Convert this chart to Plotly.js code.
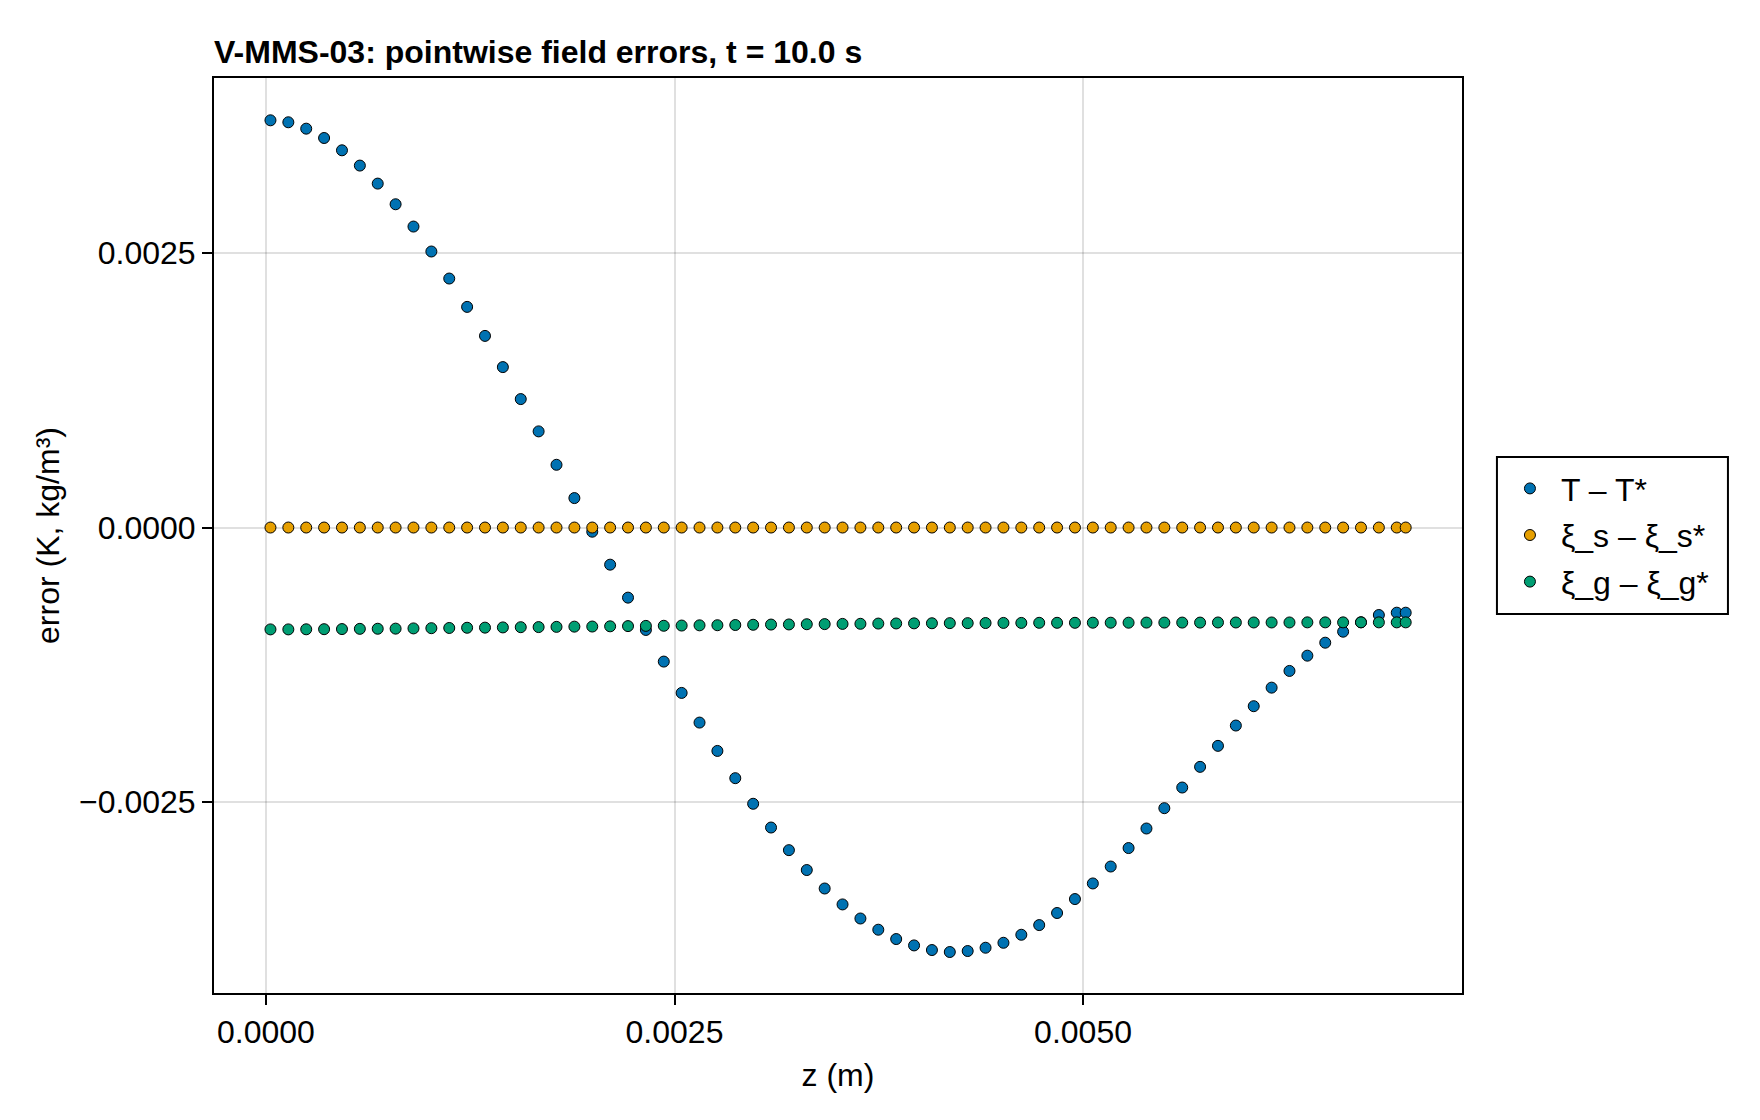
<!DOCTYPE html>
<html>
<head>
<meta charset="utf-8">
<script src="https://cdn.plot.ly/plotly-3.0.1.min.js"></script>
<style>
  html, body { margin: 0; padding: 0; background: #ffffff; }
  #chart { width: 1760px; height: 1120px; }
</style>
</head>
<body>
<div id="chart"></div>
<script>
// Grid positions along the column (m)
const z = [
  0.0000275, 0.0001369, 0.0002463, 0.0003557, 0.0004651, 0.0005745, 0.0006839, 0.0007933,
  0.0009027, 0.0010121, 0.0011215, 0.0012309, 0.0013403, 0.0014497, 0.0015591, 0.0016685,
  0.0017779, 0.0018873, 0.0019967, 0.0021061, 0.0022155, 0.0023249, 0.0024343, 0.0025437,
  0.0026531, 0.0027625, 0.0028719, 0.0029813, 0.0030907, 0.0032001, 0.0033095, 0.0034189,
  0.0035283, 0.0036377, 0.0037471, 0.0038565, 0.0039659, 0.0040753, 0.0041847, 0.0042941,
  0.0044035, 0.0045129, 0.0046223, 0.0047317, 0.0048411, 0.0049505, 0.0050599, 0.0051693,
  0.0052787, 0.0053881, 0.0054975, 0.0056069, 0.0057163, 0.0058257, 0.0059351, 0.0060445,
  0.0061539, 0.0062633, 0.0063727, 0.0064821, 0.0065915, 0.0067009, 0.0068103, 0.0069197,
  0.0069744
];

// Temperature error T - T* (K)
const errT = [
  0.003706, 0.003688, 0.003630, 0.003545, 0.003433, 0.003294, 0.003130, 0.002942,
  0.002739, 0.002512, 0.002266, 0.002008, 0.001744, 0.001460, 0.001169, 0.000875,
  0.000571, 0.000268, -0.000038, -0.000338, -0.000638, -0.000932, -0.001220, -0.001505,
  -0.001775, -0.002033, -0.002281, -0.002514, -0.002730, -0.002936, -0.003117, -0.003285,
  -0.003430, -0.003558, -0.003660, -0.003745, -0.003803, -0.003845, -0.003863, -0.003854,
  -0.003824, -0.003779, -0.003706, -0.003618, -0.003508, -0.003381, -0.003239, -0.003085,
  -0.002917, -0.002739, -0.002554, -0.002366, -0.002178, -0.001987, -0.001802, -0.001626,
  -0.001457, -0.001305, -0.001166, -0.001048, -0.000948, -0.000862, -0.000796, -0.000775,
  -0.000775
];

// Solid-phase density error xi_s - xi_s* (kg/m^3)
const errXiS = [
  0, 0, 0, 0, 0, 0, 0, 0,
  0, 0, 0, 0, 0, 0, 0, 0,
  0, 0, 0, 0, 0, 0, 0, 0,
  0, 0, 0, 0, 0, 0, 0, 0,
  0, 0, 0, 0, 0, 0, 0, 0,
  0, 0, 0, 0, 0, 0, 0, 0,
  0, 0, 0, 0, 0, 0, 0, 0,
  0, 0, 0, 0, 0, 0, 0, 0,
  0
];

// Gas-phase density error xi_g - xi_g* (kg/m^3)
const errXiG = [
  -0.000927, -0.000927, -0.000926, -0.000925, -0.000924, -0.000922, -0.000921, -0.000920,
  -0.000918, -0.000916, -0.000914, -0.000912, -0.000911, -0.000909, -0.000907, -0.000906,
  -0.000904, -0.000902, -0.000901, -0.000899, -0.000897, -0.000895, -0.000894, -0.000892,
  -0.000890, -0.000889, -0.000887, -0.000885, -0.000883, -0.000882, -0.000880, -0.000879,
  -0.000877, -0.000876, -0.000874, -0.000873, -0.000872, -0.000871, -0.000870, -0.000870,
  -0.000869, -0.000868, -0.000868, -0.000867, -0.000867, -0.000867, -0.000866, -0.000866,
  -0.000866, -0.000865, -0.000865, -0.000865, -0.000865, -0.000864, -0.000864, -0.000864,
  -0.000864, -0.000864, -0.000863, -0.000863, -0.000863, -0.000863, -0.000863, -0.000863,
  -0.000863
];

const seriesNames = ['T \u2013 T*', '\u03BE_s \u2013 \u03BE_s*', '\u03BE_g \u2013 \u03BE_g*'];
const seriesColors = ['#0072B2', '#E69F00', '#009E73'];
const seriesValues = [errT, errXiS, errXiG];

const FONT = 'Liberation Sans, Arial, Helvetica, sans-serif';

const traces = seriesValues.map((vals, i) => ({
  type: 'scatter',
  mode: 'markers',
  name: seriesNames[i],
  legendgroup: 'g' + i,
  x: z,
  y: vals,
  marker: {
    color: seriesColors[i],
    size: 11,
    line: { color: '#000000', width: 1 }
  },
  hoverinfo: 'x+y+name'
}));

const axisCommon = {
  showline: true,
  mirror: true,
  linecolor: '#000000',
  linewidth: 2,
  ticks: 'outside',
  ticklen: 10,
  tickwidth: 2,
  tickcolor: '#000000',
  showgrid: true,
  gridcolor: 'rgba(0,0,0,0.12)',
  gridwidth: 2,
  zeroline: false,
  tickformat: '.4f',
  tickfont: { family: FONT, size: 32, color: '#000000' }
};

const layout = {
  width: 1760,
  height: 1120,
  paper_bgcolor: '#ffffff',
  plot_bgcolor: '#ffffff',
  margin: { l: 214, r: 298, t: 78, b: 127, pad: 0 },
  font: { family: FONT, size: 32, color: '#000000' },
  title: {
    text: 'V-MMS-03: pointwise field errors, t = 10.0 s',
    font: { family: FONT, size: 32, weight: 700, color: '#000000' },
    xref: 'paper',
    x: 0,
    xanchor: 'left',
    yref: 'container',
    y: 1 - 52 / 1120,
    yanchor: 'middle'
  },
  xaxis: Object.assign({}, axisCommon, {
    range: [-0.000318, 0.007319],
    tick0: 0,
    dtick: 0.0025,
    title: { text: 'z (m)', font: { family: FONT, size: 32, color: '#000000' }, standoff: 14 }
  }),
  yaxis: Object.assign({}, axisCommon, {
    range: [-0.004236, 0.004091],
    tick0: 0,
    dtick: 0.0025,
    title: { text: 'error (K, kg/m\u00B3)', font: { family: FONT, size: 32, color: '#000000' }, standoff: 10 }
  }),
  showlegend: true,
  legend: {
    x: 1.0296,
    xanchor: 'left',
    y: 0.5813,
    yanchor: 'top',
    borderwidth: 0,
    bgcolor: 'rgba(0,0,0,0)',
    itemwidth: 52,
    tracegroupgap: 2,
    font: { family: FONT, size: 32, color: '#000000' }
  },
  // frame around the legend entries
  shapes: [{
    type: 'rect',
    xref: 'paper',
    yref: 'paper',
    x0: 1.0280,
    x1: 1.2131,
    y0: 0.4142,
    y1: 0.5858,
    line: { color: '#000000', width: 2 },
    fillcolor: 'rgba(0,0,0,0)',
    layer: 'below'
  }]
};

Plotly.newPlot('chart', traces, layout, { displayModeBar: false, responsive: false });
</script>
</body>
</html>
